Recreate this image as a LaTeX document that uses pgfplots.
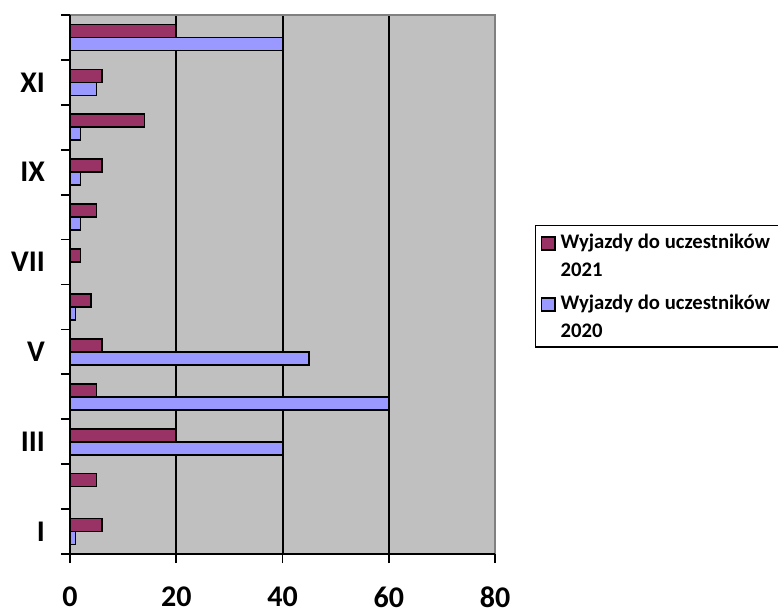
\documentclass[border=0pt]{standalone}
\usepackage{fontspec}
\setmainfont{Carlito}
\usepackage{pgfplots}
\pgfplotsset{compat=1.18}
\definecolor{plotgray}{HTML}{C0C0C0}
\definecolor{framegray}{HTML}{808080}
\definecolor{cA}{HTML}{993366}
\definecolor{cB}{HTML}{9999FF}
\begin{document}
\begin{tikzpicture}[x=1pt,y=1pt]
\begin{axis}[
  at={(70pt,60pt)}, anchor=south west,
  scale only axis, width=425pt, height=539pt,
  xmin=0, xmax=80, ymin=0.5, ymax=12.5,
  clip=false,
  axis background/.style={fill=plotgray},
  axis line style={draw=none},
  /pgf/number format/assume math mode=true,
  xtick pos=bottom, ytick pos=left,
  tick align=outside,
  major tick length=9pt,
  tick style={black, line width=1.8pt},
  xtick={0,20,40,60,80},
  extra x ticks={20,40,60},
  extra x tick labels={,,},
  extra x tick style={grid=major, major tick length=0pt, major grid style={black, line width=2pt}},
  ytick={0.5,1.5,2.5,3.5,4.5,5.5,6.5,7.5,8.5,9.5,10.5,11.5,12.5},
  yticklabels={,,,,,,,,,,,,,},
  extra y ticks={1,3,5,7,9,11},
  extra y tick labels={I,III,V,VII,IX,XI},
  extra y tick style={major tick length=0pt, tick style={draw=none},
     yticklabel style={anchor=east, inner sep=0pt, xshift=-25pt}},
  ticklabel style={font=\fontsize{30}{36}\selectfont\bfseries},
  xticklabel style={anchor=north, inner sep=0pt, yshift=-24pt},
  legend style={at={(1.094,0.6104)}, anchor=north west, draw=black, line width=1.5pt,
     fill=white, font=\fontsize{20.7}{28}\selectfont\bfseries,
     nodes={align=left, inner ysep=2pt, inner xsep=5pt}, row sep=13pt,
     inner xsep=5pt, inner ysep=6pt},
  legend cell align=left,
  legend image code/.code={\draw[#1, line width=1.5pt] (0pt,6pt) rectangle (13.5pt,19pt);},
]
\addplot[xbar, bar width=13pt, bar shift=6.5pt, fill=cA, draw=black, line width=1.6pt]
  coordinates {(6,1) (5,2) (20,3) (5,4) (6,5) (4,6) (2,7) (5,8) (6,9) (14,10) (6,11) (20,12)};
\addlegendentry{Wyjazdy do uczestników\\2021}
\addplot[xbar, bar width=13pt, bar shift=-6.5pt, fill=cB, draw=black, line width=1.6pt]
  coordinates {(1,1) (0,2) (40,3) (60,4) (45,5) (1,6) (0,7) (2,8) (2,9) (2,10) (5,11) (40,12)};
\addlegendentry{Wyjazdy do uczestników\\2020}
\draw[framegray, line width=2.5pt] (rel axis cs:0,1) -- (rel axis cs:1,1) -- (rel axis cs:1,0);
\draw[black, line width=2pt] (rel axis cs:0,1) -- (rel axis cs:0,0) -- (rel axis cs:1,0);
\end{axis}
\pgfresetboundingbox
\useasboundingbox (0pt,0pt) rectangle (778pt,614pt);
\end{tikzpicture}
\end{document}
